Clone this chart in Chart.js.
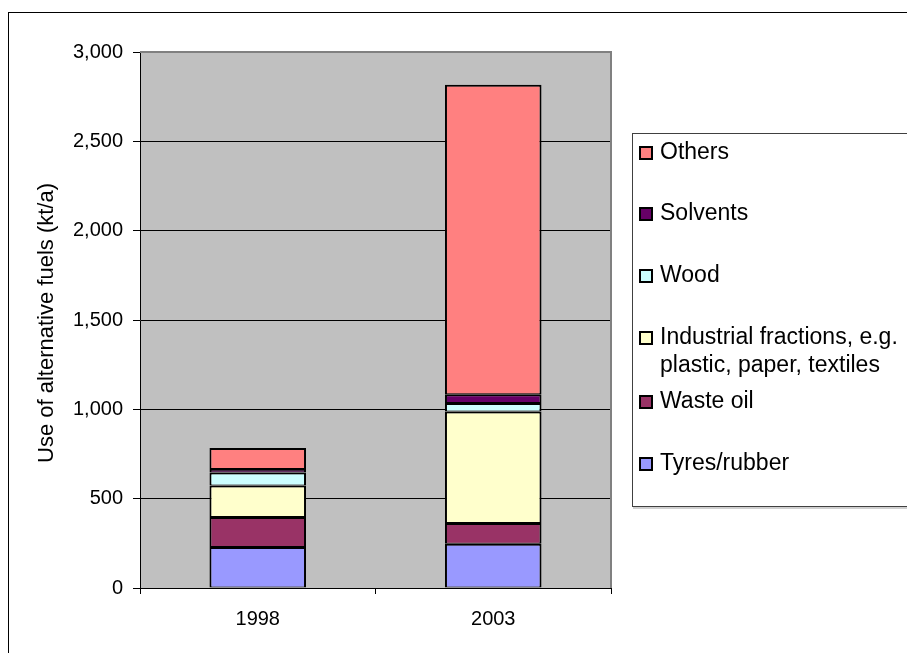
<!DOCTYPE html>
<html>
<head>
<meta charset="utf-8">
<script src="https://cdn.jsdelivr.net/npm/chart.js@4/dist/chart.umd.min.js"></script>
<style>
  html, body { margin: 0; padding: 0; background: #fff; }
  #wrap { position: relative; width: 907px; height: 653px; }
</style>
</head>
<body>
<div id="wrap"><canvas id="chart" width="907" height="653"></canvas></div>
<script>
// Alternative fuel use in kt/a, stacked from the bottom up
const years = ['1998', '2003'];
const tyresRubber = [230, 247];
const wasteOil = [168, 117];
const industrialFractions = [176, 624];
const wood = [73, 47];
const solvents = [19, 50];
const others = [117, 1732];

const seriesNames = ['Tyres/rubber', 'Waste oil', ['Industrial fractions, e.g.', 'plastic, paper, textiles'], 'Wood', 'Solvents', 'Others'];
const seriesColors = ['#9999FF', '#993366', '#FFFFCC', '#CCFFFF', '#660066', '#FF8080'];
const seriesValues = [tyresRubber, wasteOil, industrialFractions, wood, solvents, others];

const FONT = '"Liberation Sans", Arial, sans-serif';

// grey plot background, plot frame and outer chart frame
const frame = {
  id: 'frame',
  beforeDraw(chart) {
    const { ctx, chartArea: a } = chart;
    ctx.save();
    ctx.strokeStyle = '#000';
    ctx.lineWidth = 1;
    ctx.strokeRect(8.5, 12.5, 1200, 1200);
    ctx.fillStyle = '#C0C0C0';
    ctx.fillRect(a.left, a.top, a.right - a.left, a.bottom - a.top);
    ctx.restore();
  },
  afterDatasetsDraw(chart) {
    const { ctx, chartArea: a } = chart;
    ctx.save();
    ctx.strokeStyle = '#808080';
    ctx.lineWidth = 2;
    ctx.beginPath();
    ctx.moveTo(a.left, a.top);
    ctx.lineTo(a.right, a.top);
    ctx.lineTo(a.right, a.bottom);
    ctx.stroke();
    ctx.restore();
  },
  afterDraw(chart) {
    const { ctx, chartArea: a } = chart;
    ctx.save();
    // y axis title
    ctx.translate(47, (a.top + a.bottom) / 2 + 3);
    ctx.rotate(-Math.PI / 2);
    ctx.fillStyle = '#000';
    ctx.font = '22px ' + FONT;
    ctx.textAlign = 'center';
    ctx.textBaseline = 'middle';
    ctx.fillText('Use of alternative fuels (kt/a)', 0, 0);
    ctx.restore();

    // legend box, top entry first
    ctx.save();
    ctx.fillStyle = '#D0D0D0';
    ctx.fillRect(633, 507, 400, 2);
    ctx.strokeStyle = '#404040';
    ctx.lineWidth = 1;
    ctx.strokeRect(632.5, 133.5, 400, 373);
    const rows = [152, 213, 275, 337, 401, 463];
    ctx.font = '23px ' + FONT;
    ctx.textBaseline = 'middle';
    for (let i = 0; i < 6; i++) {
      const s = 5 - i;
      const y = rows[i] + 1;
      ctx.fillStyle = seriesColors[s];
      ctx.fillRect(640, y - 6, 12, 12);
      ctx.strokeStyle = '#000';
      ctx.lineWidth = 2;
      ctx.strokeRect(640, y - 6, 12, 12);
      ctx.fillStyle = '#000';
      const name = seriesNames[s];
      const lines = Array.isArray(name) ? name : [name];
      lines.forEach((t, k) => ctx.fillText(t, 660, y + k * 28));
    }
    ctx.restore();
  }
};

new Chart(document.getElementById('chart'), {
  type: 'bar',
  data: {
    labels: years,
    datasets: seriesValues.map((vals, i) => ({
      label: Array.isArray(seriesNames[i]) ? seriesNames[i].join(' ') : seriesNames[i],
      data: vals,
      backgroundColor: seriesColors[i],
      borderColor: '#000',
      borderWidth: { left: 2, right: 2, top: 2, bottom: 1 },
      borderSkipped: false,
      categoryPercentage: 1,
      barPercentage: 0.41
    }))
  },
  options: {
    responsive: false,
    animation: false,
    layout: { padding: { left: 0, top: 52, right: 296, bottom: 0 } },
    plugins: { legend: { display: false }, tooltip: { enabled: false } },
    scales: {
      x: {
        stacked: true,
        afterFit(scale) { scale.height = 653 - 588; },
        grid: { offset: true, drawOnChartArea: false, drawTicks: true, tickLength: 6, color: '#000' },
        border: { color: '#000', width: 1 },
        ticks: { color: '#000', font: { family: FONT, size: 20 }, padding: 13 }
      },
      y: {
        stacked: true,
        min: 0,
        max: 3000,
        afterFit(scale) { scale.width = 140; },
        grid: {
          color: (c) => c.tick && c.tick.value === 3000 ? 'rgba(0,0,0,0)' : '#000',
          tickColor: '#000',
          tickLength: 7,
          lineWidth: 1
        },
        border: { color: '#000', width: 1 },
        ticks: {
          stepSize: 500,
          color: '#000',
          font: { family: FONT, size: 20 },
          padding: 10,
          callback: (v) => v.toLocaleString('en-US')
        }
      }
    }
  },
  plugins: [frame]
});
</script>
</body>
</html>
